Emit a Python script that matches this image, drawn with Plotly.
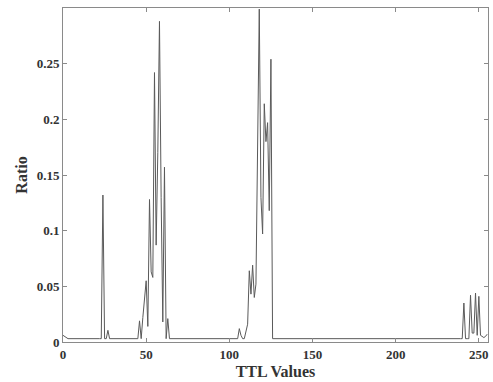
import plotly.graph_objects as go

# TTL value (x) and ratio (y) at the points where the curve changes
ttl = [0, 1, 2, 3, 22, 23, 24, 25, 26, 27, 28,
       45, 46, 47, 48, 49, 50, 51, 52, 53, 54, 55, 56, 57, 58, 59, 60, 61, 62, 63, 64,
       105, 106, 107, 108, 109, 110, 111, 112, 113, 114, 115, 116, 117, 118, 119, 120,
       121, 122, 123, 124, 125, 126,
       239, 240, 241, 242, 243, 244, 245, 246, 247, 248, 249, 250, 251, 252, 253, 254, 255]
ratio = [0.006, 0.005, 0.004, 0.003, 0.003, 0.003, 0.132, 0.003, 0.003, 0.0105, 0.003,
         0.003, 0.019, 0.003, 0.022, 0.037, 0.055, 0.014, 0.128, 0.063, 0.058, 0.242, 0.087,
         0.17, 0.288, 0.13, 0.018, 0.157, 0.003, 0.021, 0.003,
         0.003, 0.012, 0.006, 0.003, 0.003, 0.010, 0.016, 0.064, 0.043, 0.069, 0.040, 0.052,
         0.17, 0.299, 0.13, 0.097, 0.214, 0.180, 0.197, 0.118, 0.254, 0.003,
         0.003, 0.003, 0.035, 0.003, 0.003, 0.003, 0.042, 0.008, 0.008, 0.044, 0.006, 0.041,
         0.006, 0.005, 0.004, 0.005, 0.007]

x_ticks = [0, 50, 100, 150, 200, 250]
y_ticks = [0, 0.05, 0.1, 0.15, 0.2, 0.25]
y_tick_text = ["0", "0.05", "0.1", "0.15", "0.2", "0.25"]

fig = go.Figure()
fig.add_trace(go.Scatter(x=ttl, y=ratio, mode="lines",
                         line=dict(color="#5a5a5a", width=1), showlegend=False))

font_family = "Liberation Serif, Times New Roman, serif"
axis_common = dict(showline=True, linecolor="#8a8a8a", linewidth=1, mirror="ticks",
                   ticks="inside", ticklen=4, tickcolor="#8a8a8a", showgrid=False,
                   zeroline=False,
                   tickfont=dict(family=font_family, size=13, color="#333333", weight="bold"))

fig.update_layout(
    width=493, height=382,
    margin=dict(l=63, r=4, t=8, b=38),
    paper_bgcolor="white", plot_bgcolor="white",
    xaxis=dict(range=[0, 255.5], tickvals=x_ticks,
               title=dict(text="TTL Values", standoff=5,
                          font=dict(family=font_family, size=16, color="#333333", weight="bold")),
               **axis_common),
    yaxis=dict(range=[0, 0.3], tickvals=y_ticks, ticktext=y_tick_text,
               title=dict(text="Ratio", standoff=5,
                          font=dict(family=font_family, size=16, color="#333333", weight="bold")),
               **axis_common),
)

fig.write_html("out.html", config={"displayModeBar": False},
               post_script="document.body.style.margin='0px';document.body.style.overflow='hidden';")
